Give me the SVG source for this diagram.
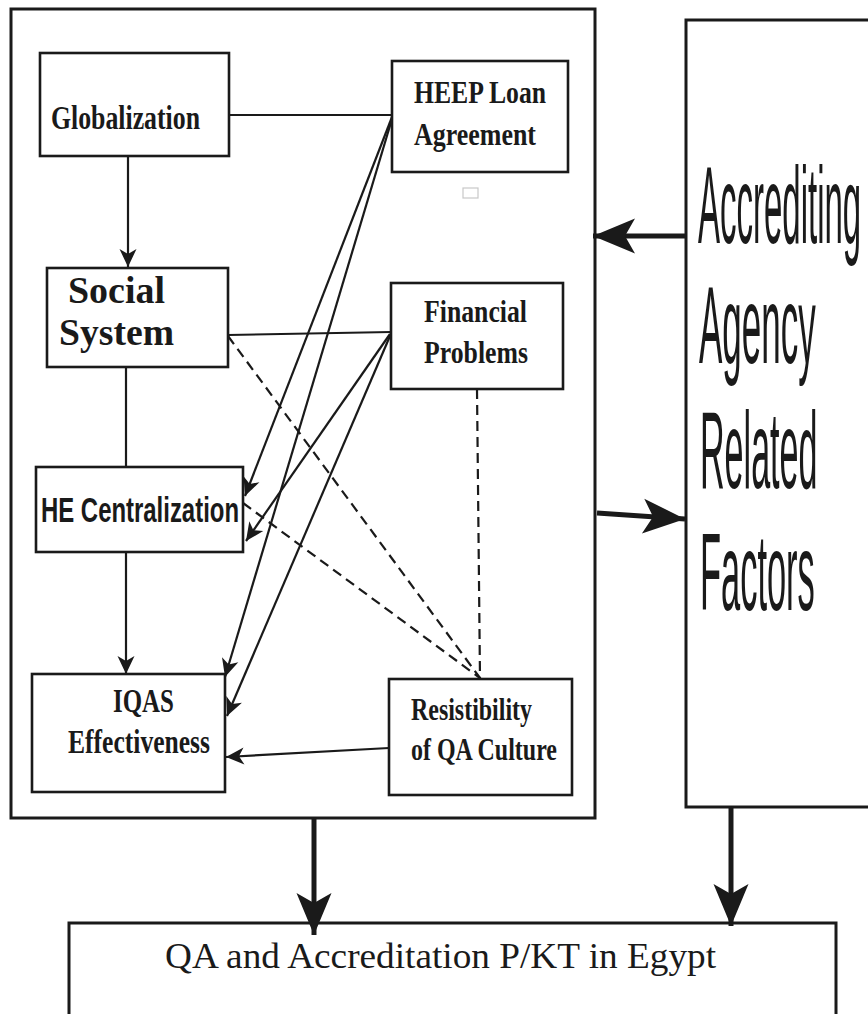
<svg xmlns="http://www.w3.org/2000/svg" width="868" height="1014" viewBox="0 0 868 1014">
<style>
.box{fill:#fff;stroke:#1a1a1a;stroke-width:2.6}
.frame{fill:none;stroke:#1a1a1a;stroke-width:3}
.t{font-family:"Liberation Serif","Times New Roman",serif;font-weight:bold;fill:#1a1a1a}
.s{font-family:"Liberation Sans",Arial,sans-serif;fill:#1a1a1a}
.c{fill:none;stroke:#1a1a1a;stroke-width:2.2}
.d{fill:none;stroke:#1a1a1a;stroke-width:2.2;stroke-dasharray:10 6}
.b{fill:none;stroke:#1a1a1a;stroke-width:5}
</style>
<defs>
<marker id="ah" viewBox="-20 -10 22 20" refX="0" refY="0" markerWidth="22" markerHeight="20" markerUnits="userSpaceOnUse" orient="auto">
<path d="M0,0 L-18,-8.5 L-13,0 L-18,8.5 Z" fill="#1a1a1a"/>
</marker>
<marker id="big" viewBox="-46 -20 48 40" refX="0" refY="0" markerWidth="48" markerHeight="40" markerUnits="userSpaceOnUse" orient="auto">
<path d="M0,0 L-42,-17.5 L-32,0 L-42,17.5 Z" fill="#1a1a1a"/>
</marker>
</defs>
<rect width="868" height="1014" fill="#fff"/>

<g id="outer-frame">
<rect class="frame" x="11" y="9" width="584" height="809"/>
</g>

<g id="accrediting">
<rect class="frame" x="686" y="20" width="200" height="787"/>
<text class="s" font-size="110" transform="translate(698,243) scale(0.3,1)">Accrediting</text>
<text class="s" font-size="110" transform="translate(699,363) scale(0.318,1)">Agency</text>
<text class="s" font-size="110" transform="translate(700,488) scale(0.31,1)">Related</text>
<text class="s" font-size="110" transform="translate(700,610) scale(0.313,1)">Factors</text>
</g>

<g id="qa-egypt">
<rect class="frame" x="69" y="923" width="767" height="120"/>
<text x="165" y="968" font-family="Liberation Serif,'Times New Roman',serif" font-size="36" fill="#1a1a1a" textLength="551" lengthAdjust="spacingAndGlyphs">QA and Accreditation P/KT in Egypt</text>
</g>

<g id="connectors">
<line class="c" x1="128" y1="156" x2="128" y2="267" marker-end="url(#ah)"/>
<line class="c" x1="126" y1="367" x2="126" y2="467"/>
<line class="c" x1="126" y1="552" x2="126" y2="674" marker-end="url(#ah)"/>
<line class="c" x1="229" y1="115" x2="392" y2="115"/>
<line class="c" x1="228" y1="335" x2="391" y2="332"/>
<line class="c" x1="392" y1="117" x2="245" y2="496" marker-end="url(#ah)"/>
<line class="c" x1="392" y1="119" x2="225" y2="677" marker-end="url(#ah)"/>
<line class="c" x1="390" y1="334" x2="246" y2="541" marker-end="url(#ah)"/>
<line class="c" x1="390" y1="336" x2="227" y2="716" marker-end="url(#ah)"/>
<line class="c" x1="389" y1="748" x2="226" y2="757" marker-end="url(#ah)"/>
<line class="d" x1="228" y1="336" x2="480" y2="678"/>
<line class="d" x1="243" y1="503" x2="480" y2="678"/>
<line class="d" x1="477" y1="389" x2="480" y2="678"/>
<line class="b" x1="686" y1="236" x2="593" y2="236" marker-end="url(#big)"/>
<line class="b" x1="597" y1="513" x2="685" y2="519" marker-end="url(#big)"/>
<line class="b" x1="314" y1="817" x2="314" y2="935" marker-end="url(#big)"/>
<line class="b" x1="731" y1="806" x2="731" y2="926" marker-end="url(#big)"/>
</g>

<g id="globalization">
<rect class="box" x="40" y="53" width="189" height="103"/>
<text class="t" x="51" y="129" font-size="34" textLength="149" lengthAdjust="spacingAndGlyphs">Globalization</text>
</g>

<g id="social-system">
<rect class="box" x="47" y="268" width="181" height="99"/>
<text class="t" x="68" y="303" font-size="37" textLength="97" lengthAdjust="spacingAndGlyphs">Social</text>
<text class="t" x="59" y="345" font-size="37" textLength="115" lengthAdjust="spacingAndGlyphs">System</text>
</g>

<g id="he-centralization">
<rect class="box" x="36" y="467" width="207" height="85"/>
<text class="s" x="41" y="522" font-size="35" font-weight="bold" textLength="198" lengthAdjust="spacingAndGlyphs">HE Centralization</text>
</g>

<g id="iqas">
<rect class="box" x="32" y="674" width="193" height="118"/>
<text class="t" x="113" y="712" font-size="33" textLength="61" lengthAdjust="spacingAndGlyphs">IQAS</text>
<text class="t" x="68" y="753" font-size="33" textLength="142" lengthAdjust="spacingAndGlyphs">Effectiveness</text>
</g>

<g id="heep">
<rect class="box" x="392" y="61" width="176" height="111"/>
<text class="t" x="414" y="103" font-size="32" textLength="132" lengthAdjust="spacingAndGlyphs">HEEP Loan</text>
<text class="t" x="414" y="145" font-size="32" textLength="122" lengthAdjust="spacingAndGlyphs">Agreement</text>
</g>

<g id="small-square">
<rect x="463" y="188" width="15" height="10" fill="none" stroke="#c8c8c8" stroke-width="1.2"/>
</g>

<g id="financial">
<rect class="box" x="391" y="283" width="172" height="106"/>
<text class="t" x="424" y="322" font-size="32" textLength="103" lengthAdjust="spacingAndGlyphs">Financial</text>
<text class="t" x="424" y="363" font-size="32" textLength="104" lengthAdjust="spacingAndGlyphs">Problems</text>
</g>

<g id="resistibility">
<rect class="box" x="389" y="679" width="183" height="116"/>
<text class="t" x="411" y="720" font-size="31" textLength="121" lengthAdjust="spacingAndGlyphs">Resistibility</text>
<text class="t" x="411" y="760" font-size="31" textLength="146" lengthAdjust="spacingAndGlyphs">of QA Culture</text>
</g>
</svg>
